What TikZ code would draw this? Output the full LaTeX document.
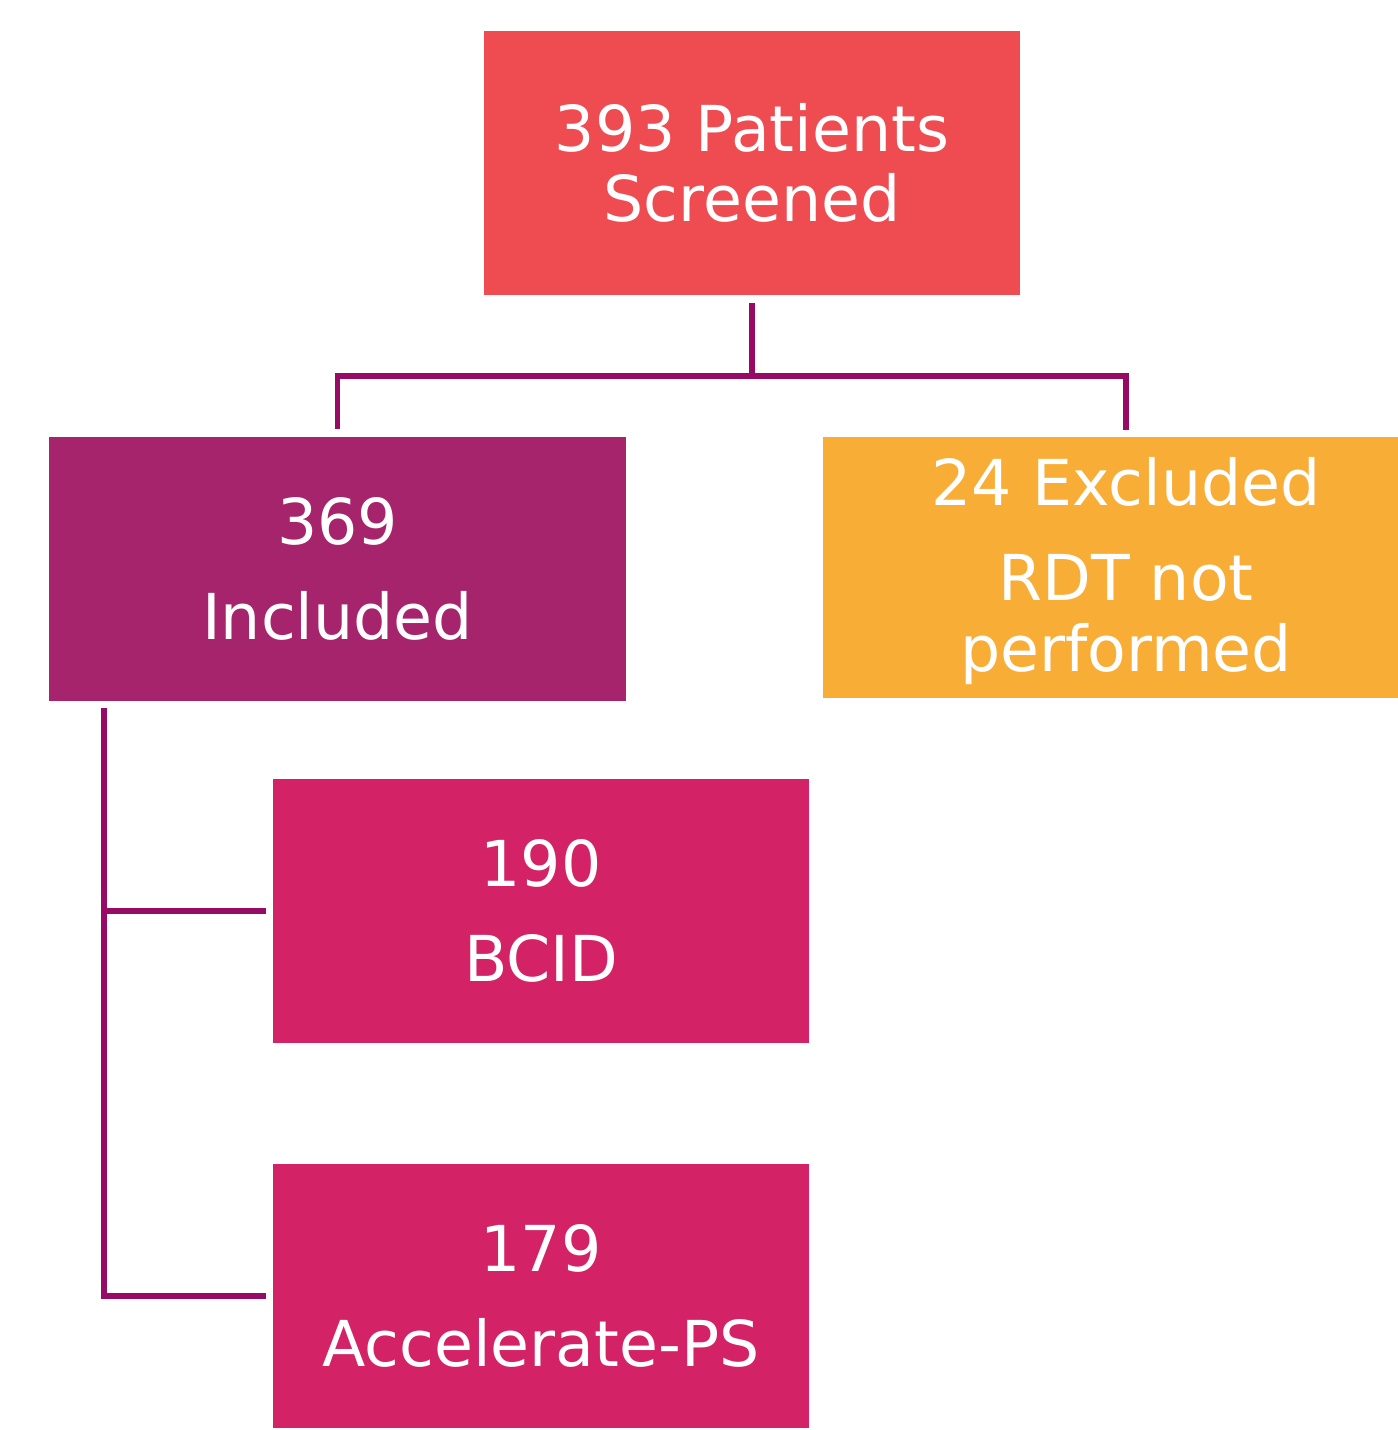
\documentclass[tikz,border=0pt]{standalone}
\usepackage{fontspec}
\setmainfont{DejaVu Sans}
\definecolor{screencol}{HTML}{EF4C52}
\definecolor{inclcol}{HTML}{A6246C}
\definecolor{exclcol}{HTML}{F8AD36}
\definecolor{armcol}{HTML}{D32266}
\definecolor{linkcol}{HTML}{970A66}
\begin{document}
\begin{tikzpicture}[
    x=0.01cm, y=-0.01cm,
    box/.style={inner sep=0pt, align=center, text=white,
                font=\fontsize{18}{27}\selectfont,
                minimum width=5.36cm, minimum height=2.64cm},
    screen/.style={box, fill=screencol, font=\fontsize{18}{20}\selectfont},
    incl/.style={box, fill=inclcol, minimum width=5.77cm},
    excl/.style={box, fill=exclcol, minimum width=5.75cm, minimum height=2.61cm},
    excltext/.style={inner sep=0pt, align=center, text=white,
                     font=\fontsize{18}{20}\selectfont},
    arm/.style={box, fill=armcol},
    link/.style={draw=linkcol, line width=1.6pt}]
  \useasboundingbox (0,0) rectangle (1398,1430);
  % boxes
  \node[screen] (screened) at (752,163)    {393 Patients\\Screened};
  \node[incl]   (included) at (337.5,569)  {369\\Included};
  \node[excl]   (excluded) at (1110.5,567.5) {};
  \node[excltext] (exclreason) at (1126,571) {24 Excluded\\[7pt]RDT not\\performed};
  \node[arm]    (bcid)     at (541,911)    {190\\BCID};
  \node[arm]    (accel)    at (541,1296)   {179\\Accelerate-PS};
  % connectors
  \coordinate (split) at (752,376);
  \coordinate (exclin) at (1126,430);
  \coordinate (trunk) at (104,708);
  \draw[link] ([yshift=-0.07cm]screened.south) -- (split);
  \draw[link] (split) -| ([yshift=0.07cm]included.north);
  \draw[link] (split) -| (exclin);
  \draw[link] (trunk) |- ([xshift=-0.06cm]bcid.west);
  \draw[link] (trunk) |- ([xshift=-0.06cm]accel.west);
\end{tikzpicture}
\end{document}
